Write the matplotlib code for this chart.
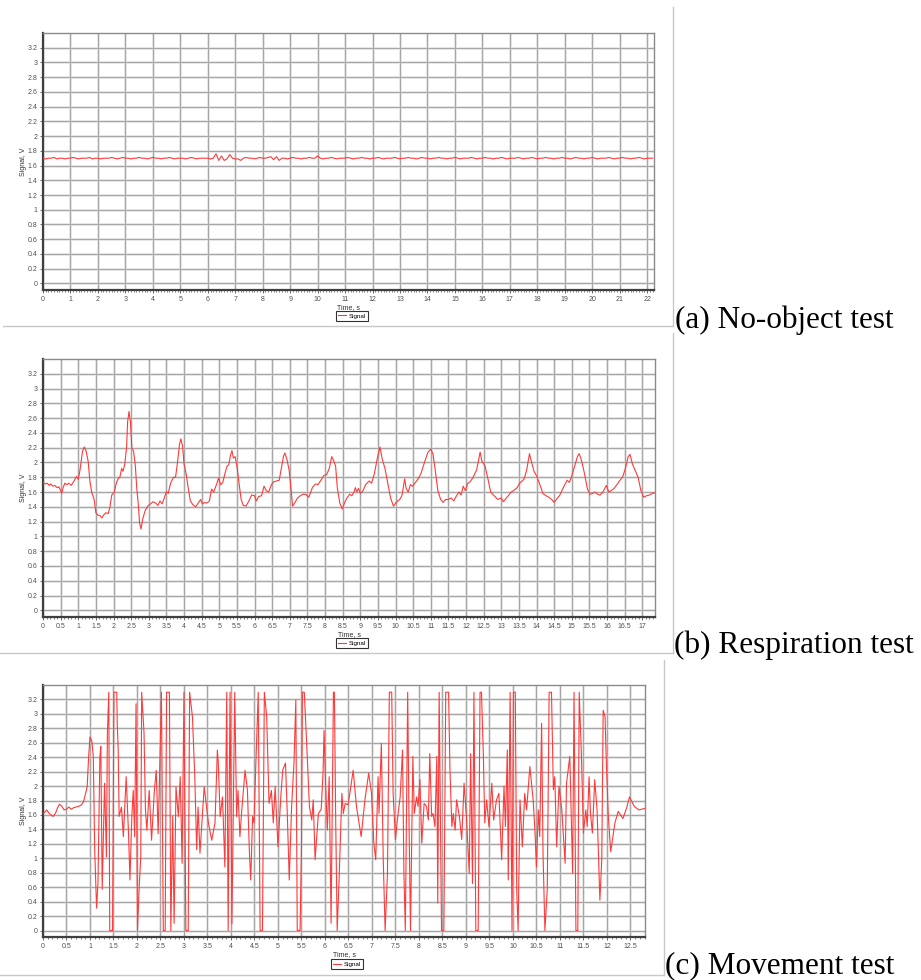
"""
センサ信号の3種類のテスト結果（無物体・呼吸・動作）を再現するプロット
"""

import numpy as np
import matplotlib
matplotlib.use("Agg")
import matplotlib.pyplot as plt
from matplotlib.lines import Line2D
from matplotlib.ticker import MultipleLocator, AutoMinorLocator, FormatStrFormatter


# =============================================================================
# データ
# =============================================================================

# (a) No-object test : 0.1 s 間隔
time_a_step = 0.1
signal_a = [
    1.70, 1.69, 1.70, 1.70, 1.71, 1.69, 1.70, 1.70, 1.69, 1.70,
    1.70, 1.71, 1.70, 1.69, 1.70, 1.70, 1.70, 1.71, 1.69, 1.70,
    1.70, 1.69, 1.70, 1.70, 1.70, 1.71, 1.70, 1.69, 1.70, 1.71,
    1.70, 1.70, 1.69, 1.70, 1.70, 1.71, 1.70, 1.70, 1.69, 1.70,
    1.71, 1.70, 1.70, 1.69, 1.70, 1.70, 1.71, 1.70, 1.69, 1.70,
    1.70, 1.70, 1.69, 1.70, 1.71, 1.70, 1.69, 1.70, 1.70, 1.70,
    1.70, 1.69, 1.70, 1.76, 1.67, 1.73, 1.67, 1.69, 1.75, 1.70,
    1.69, 1.69, 1.67, 1.70, 1.71, 1.70, 1.70, 1.69, 1.70, 1.71,
    1.70, 1.70, 1.71, 1.72, 1.68, 1.72, 1.67, 1.70, 1.70, 1.69,
    1.70, 1.71, 1.70, 1.70, 1.69, 1.70, 1.70, 1.71, 1.70, 1.70,
    1.73, 1.70, 1.69, 1.70, 1.70, 1.71, 1.70, 1.69, 1.70, 1.70,
    1.70, 1.71, 1.70, 1.69, 1.70, 1.70, 1.71, 1.70, 1.70, 1.69,
    1.70, 1.70, 1.71, 1.70, 1.69, 1.70, 1.70, 1.70, 1.71, 1.70,
    1.69, 1.70, 1.70, 1.71, 1.70, 1.70, 1.69, 1.70, 1.71, 1.70,
    1.70, 1.69, 1.70, 1.70, 1.71, 1.70, 1.70, 1.69, 1.70, 1.70,
    1.71, 1.70, 1.69, 1.70, 1.70, 1.70, 1.71, 1.70, 1.69, 1.70,
    1.70, 1.71, 1.70, 1.70, 1.69, 1.70, 1.70, 1.71, 1.70, 1.69,
    1.70, 1.70, 1.70, 1.71, 1.70, 1.69, 1.70, 1.70, 1.71, 1.70,
    1.69, 1.70, 1.70, 1.71, 1.70, 1.70, 1.69, 1.70, 1.70, 1.71,
    1.70, 1.70, 1.69, 1.70, 1.71, 1.70, 1.70, 1.69, 1.70, 1.70,
    1.71, 1.70, 1.69, 1.70, 1.70, 1.70, 1.71, 1.70, 1.69, 1.70,
    1.70, 1.71, 1.70, 1.70, 1.69, 1.70, 1.70, 1.71, 1.70, 1.69,
    1.70, 1.70, 1.70,
]

# (b) Respiration test
time_b = [
    0.00, 0.08, 0.12, 0.18, 0.22, 0.28, 0.33, 0.40, 0.45, 0.50, 0.53, 0.57,
    0.62, 0.68, 0.73, 0.80, 0.88, 0.95, 1.00, 1.05, 1.12, 1.17, 1.22, 1.28,
    1.33, 1.38, 1.45, 1.50, 1.55, 1.62, 1.67, 1.72, 1.78, 1.85, 1.90, 1.95,
    2.02, 2.08, 2.13, 2.18, 2.23, 2.27, 2.32, 2.37, 2.40, 2.44, 2.48, 2.52,
    2.57, 2.62, 2.66, 2.70, 2.74, 2.78, 2.83, 2.90, 2.97, 3.05, 3.12, 3.20,
    3.26, 3.32, 3.38, 3.44, 3.50, 3.55, 3.62, 3.70, 3.76, 3.82, 3.87, 3.91,
    3.96, 4.00, 4.06, 4.12, 4.18, 4.25, 4.33, 4.40, 4.47, 4.52, 4.58, 4.65,
    4.72, 4.78, 4.84, 4.92, 4.98, 5.04, 5.10, 5.16, 5.22, 5.27, 5.32, 5.36,
    5.40, 5.45, 5.50, 5.56, 5.62, 5.68, 5.76, 5.84, 5.92, 6.00, 6.05, 6.12,
    6.20, 6.27, 6.33, 6.40, 6.48, 6.55, 6.62, 6.70, 6.76, 6.82, 6.86, 6.92,
    6.98, 7.04, 7.08, 7.15, 7.22, 7.30, 7.37, 7.45, 7.54, 7.64, 7.73, 7.80,
    7.87, 7.96, 8.05, 8.12, 8.19, 8.25, 8.30, 8.35, 8.42, 8.49, 8.55, 8.62,
    8.70, 8.76, 8.82, 8.86, 8.90, 8.95, 9.00, 9.08, 9.15, 9.25, 9.32, 9.40,
    9.48, 9.56, 9.62, 9.70, 9.78, 9.86, 9.94, 10.00, 10.06, 10.12, 10.18, 10.26,
    10.30, 10.36, 10.42, 10.48, 10.55, 10.64, 10.72, 10.82, 10.92, 11.00, 11.06, 11.12,
    11.20, 11.28, 11.35, 11.42, 11.50, 11.58, 11.65, 11.73, 11.80, 11.86, 11.92, 11.98,
    12.05, 12.12, 12.20, 12.30, 12.36, 12.40, 12.45, 12.54, 12.62, 12.70, 12.80, 12.90,
    13.00, 13.06, 13.14, 13.20, 13.28, 13.35, 13.45, 13.52, 13.59, 13.65, 13.72, 13.80,
    13.86, 13.93, 14.00, 14.08, 14.18, 14.27, 14.35, 14.43, 14.50, 14.58, 14.65, 14.72,
    14.80, 14.87, 14.93, 15.00, 15.08, 15.16, 15.21, 15.28, 15.36, 15.44, 15.51, 15.58,
    15.66, 15.73, 15.80, 15.88, 15.98, 16.05, 16.12, 16.20, 16.28, 16.35, 16.44, 16.52,
    16.60, 16.65, 16.72, 16.80, 16.88, 16.96, 17.04, 17.12, 17.20, 17.28, 17.35,
]
signal_b = [
    1.73, 1.71, 1.72, 1.69, 1.71, 1.68, 1.69, 1.66, 1.67, 1.62, 1.58, 1.66,
    1.72, 1.70, 1.72, 1.69, 1.75, 1.81, 1.77, 1.90, 2.15, 2.21, 2.16, 2.02,
    1.75, 1.60, 1.50, 1.32, 1.29, 1.28, 1.25, 1.29, 1.32, 1.31, 1.40, 1.56,
    1.60, 1.72, 1.78, 1.80, 1.92, 1.88, 1.98, 2.20, 2.55, 2.69, 2.55, 2.20,
    2.15, 1.95, 1.65, 1.45, 1.18, 1.10, 1.24, 1.35, 1.41, 1.44, 1.47, 1.45,
    1.42, 1.48, 1.44, 1.52, 1.61, 1.58, 1.72, 1.80, 1.80, 2.02, 2.24, 2.32,
    2.22, 1.98, 1.85, 1.65, 1.48, 1.43, 1.40, 1.45, 1.50, 1.44, 1.46, 1.45,
    1.48, 1.64, 1.60, 1.70, 1.79, 1.70, 1.73, 1.85, 1.95, 1.97, 2.10, 2.16,
    2.06, 2.08, 1.95, 1.72, 1.50, 1.42, 1.41, 1.48, 1.56, 1.55, 1.48, 1.54,
    1.55, 1.68, 1.62, 1.60, 1.70, 1.74, 1.75, 1.76, 1.92, 2.08, 2.13, 2.04,
    1.90, 1.62, 1.41, 1.46, 1.52, 1.55, 1.57, 1.57, 1.53, 1.66, 1.71, 1.70,
    1.75, 1.82, 1.84, 1.92, 2.08, 2.02, 1.95, 1.65, 1.45, 1.37, 1.45, 1.52,
    1.57, 1.55, 1.60, 1.66, 1.60, 1.65, 1.58, 1.62, 1.70, 1.75, 1.72, 1.85,
    2.05, 2.21, 2.05, 1.92, 1.72, 1.52, 1.41, 1.45, 1.48, 1.50, 1.55, 1.78,
    1.65, 1.60, 1.70, 1.68, 1.72, 1.78, 1.85, 2.00, 2.14, 2.18, 2.12, 1.92,
    1.62, 1.50, 1.46, 1.50, 1.50, 1.52, 1.48, 1.55, 1.60, 1.56, 1.68, 1.62,
    1.72, 1.74, 1.80, 1.90, 2.04, 2.14, 2.02, 1.95, 1.78, 1.60, 1.55, 1.50,
    1.52, 1.47, 1.52, 1.55, 1.60, 1.62, 1.66, 1.72, 1.75, 1.78, 1.90, 2.12,
    2.00, 1.88, 1.82, 1.72, 1.58, 1.55, 1.53, 1.50, 1.46, 1.51, 1.55, 1.62,
    1.70, 1.76, 1.73, 1.82, 1.95, 2.08, 2.12, 2.02, 1.85, 1.65, 1.57, 1.58,
    1.60, 1.57, 1.56, 1.60, 1.69, 1.60, 1.62, 1.65, 1.70, 1.75, 1.80, 1.92,
    2.08, 2.11, 1.98, 1.89, 1.80, 1.62, 1.53, 1.55, 1.56, 1.58, 1.59,
]

# (c) Movement test
time_c = [
    0.00, 0.04, 0.08, 0.12, 0.17, 0.22, 0.27, 0.31, 0.35, 0.40, 0.45, 0.50,
    0.55, 0.60, 0.65, 0.70, 0.76, 0.82, 0.86, 0.90, 0.94, 0.97, 1.00, 1.04,
    1.07, 1.10, 1.14, 1.17, 1.21, 1.23, 1.26, 1.31, 1.35, 1.37, 1.40, 1.42,
    1.48, 1.51, 1.57, 1.58, 1.60, 1.62, 1.67, 1.71, 1.77, 1.82, 1.85, 1.89,
    1.92, 1.95, 1.98, 2.01, 2.05, 2.08, 2.10, 2.15, 2.18, 2.21, 2.26, 2.31,
    2.37, 2.41, 2.45, 2.48, 2.52, 2.56, 2.60, 2.63, 2.69, 2.72, 2.76, 2.79,
    2.83, 2.88, 2.92, 2.96, 3.00, 3.04, 3.09, 3.12, 3.18, 3.23, 3.27, 3.30,
    3.34, 3.43, 3.52, 3.59, 3.66, 3.71, 3.73, 3.77, 3.82, 3.87, 3.91, 3.94,
    3.98, 4.02, 4.08, 4.12, 4.15, 4.19, 4.23, 4.30, 4.35, 4.39, 4.42, 4.46,
    4.49, 4.53, 4.58, 4.62, 4.67, 4.71, 4.76, 4.81, 4.86, 4.90, 4.94, 5.00,
    5.06, 5.10, 5.16, 5.20, 5.24, 5.29, 5.34, 5.38, 5.41, 5.47, 5.50, 5.52,
    5.56, 5.61, 5.67, 5.72, 5.75, 5.79, 5.86, 5.92, 5.96, 5.98, 6.01, 6.05,
    6.09, 6.13, 6.18, 6.20, 6.23, 6.26, 6.30, 6.36, 6.39, 6.43, 6.49, 6.53,
    6.60, 6.67, 6.77, 6.85, 6.93, 6.99, 7.04, 7.08, 7.13, 7.15, 7.20, 7.24,
    7.28, 7.33, 7.37, 7.42, 7.45, 7.50, 7.54, 7.60, 7.65, 7.68, 7.71, 7.76,
    7.79, 7.82, 7.87, 7.90, 7.95, 7.98, 8.02, 8.06, 8.11, 8.16, 8.20, 8.23,
    8.27, 8.30, 8.34, 8.38, 8.40, 8.43, 8.48, 8.53, 8.57, 8.63, 8.66, 8.70,
    8.73, 8.77, 8.80, 8.86, 8.91, 8.96, 9.01, 9.07, 9.10, 9.14, 9.17, 9.21,
    9.26, 9.30, 9.33, 9.37, 9.40, 9.44, 9.49, 9.55, 9.59, 9.65, 9.70, 9.76,
    9.81, 9.84, 9.88, 9.90, 9.94, 9.98, 10.01, 10.05, 10.08, 10.11, 10.15, 10.20,
    10.25, 10.29, 10.36, 10.43, 10.47, 10.50, 10.54, 10.57, 10.61, 10.64, 10.68, 10.73,
    10.77, 10.82, 10.86, 10.89, 10.93, 10.98, 11.04, 11.11, 11.14, 11.21, 11.27, 11.30,
    11.34, 11.38, 11.41, 11.46, 11.50, 11.55, 11.58, 11.62, 11.65, 11.69, 11.74, 11.79,
    11.85, 11.89, 11.92, 11.96, 11.99, 12.03, 12.08, 12.17, 12.24, 12.34, 12.42, 12.48,
    12.58, 12.68, 12.80,
]
signal_c = [
    1.62, 1.64, 1.67, 1.63, 1.60, 1.58, 1.63, 1.70, 1.75, 1.72, 1.67, 1.68,
    1.71, 1.68, 1.70, 1.71, 1.72, 1.74, 1.78, 1.88, 1.99, 2.40, 2.68, 2.62,
    2.41, 1.12, 0.31, 0.66, 2.40, 2.55, 0.57, 2.04, 1.02, 2.73, 3.30, 0.00,
    0.00, 3.30, 3.30, 2.87, 2.50, 1.58, 1.71, 1.30, 2.13, 1.34, 0.70, 1.58,
    1.94, 1.30, 3.14, 0.00, 0.65, 1.02, 3.30, 2.73, 1.67, 1.39, 1.94, 1.25,
    1.94, 2.22, 1.34, 2.13, 3.30, 0.00, 0.00, 3.30, 3.30, 0.00, 1.58, 0.10,
    1.99, 1.58, 2.13, 0.93, 3.30, 0.00, 0.00, 3.30, 2.96, 2.13, 1.12, 1.71,
    1.07, 1.99, 1.49, 1.25, 1.49, 2.50, 2.32, 1.58, 1.85, 0.88, 3.30, 0.00,
    3.30, 0.09, 3.30, 1.58, 1.94, 1.30, 1.67, 2.22, 1.94, 1.12, 0.70, 1.58,
    1.49, 2.32, 3.30, 0.00, 0.00, 3.30, 2.96, 1.76, 1.94, 1.49, 1.99, 1.16,
    1.85, 2.22, 2.32, 1.58, 0.70, 1.71, 2.32, 3.19, 0.00, 0.00, 1.12, 3.30,
    3.30, 2.60, 1.71, 1.53, 1.81, 0.98, 1.62, 1.68, 2.20, 2.77, 2.09, 1.39,
    2.13, 0.10, 3.30, 3.30, 1.44, 0.00, 0.70, 1.90, 1.62, 1.76, 1.74, 1.90,
    2.22, 1.72, 1.30, 1.81, 2.18, 1.90, 1.21, 0.98, 2.13, 1.62, 2.59, 0.98,
    0.00, 0.79, 3.30, 3.30, 1.90, 1.26, 1.53, 1.85, 2.50, 0.79, 0.00, 3.30,
    1.44, 0.00, 2.41, 1.62, 1.85, 1.72, 2.09, 1.21, 1.76, 1.72, 1.53, 2.45,
    1.58, 1.62, 1.44, 2.41, 0.38, 3.30, 0.00, 0.00, 3.30, 3.30, 2.22, 1.44,
    1.62, 1.39, 1.81, 1.58, 1.26, 2.04, 1.58, 0.79, 2.45, 0.65, 3.30, 0.00,
    0.00, 3.30, 3.30, 2.45, 1.49, 1.81, 1.44, 2.04, 1.53, 1.81, 1.90, 0.98,
    2.00, 1.44, 2.50, 0.70, 3.30, 0.00, 3.30, 3.30, 0.56, 0.00, 1.81, 1.16,
    1.90, 1.67, 2.27, 1.81, 1.35, 0.88, 1.67, 1.30, 2.87, 1.07, 0.00, 0.56,
    3.30, 3.30, 1.95, 2.13, 1.16, 2.00, 1.67, 0.93, 2.04, 2.41, 0.79, 3.30,
    0.00, 0.00, 3.30, 2.36, 1.35, 1.67, 1.44, 2.13, 1.62, 1.35, 2.09, 1.67,
    0.42, 0.98, 3.05, 2.96, 2.27, 1.58, 1.09, 1.49, 1.65, 1.55, 1.70, 1.85,
    1.72, 1.67, 1.69,
]

y_ticks = [0, 0.2, 0.4, 0.6, 0.8, 1, 1.2, 1.4, 1.6, 1.8, 2, 2.2, 2.4, 2.6, 2.8, 3, 3.2]

captions = ["(a) No-object test", "(b) Respiration test", "(c) Movement test"]


# =============================================================================
# レイアウト（ピクセル指定 → figure 座標）
# =============================================================================

W, H = 921, 980
LINE_COLOR = "#ff3a3a"


def fx(x):
    return x / W


def fy(y):
    return 1 - y / H


def make_axes(fig, left, top, right, bottom):
    return fig.add_axes([fx(left), fy(bottom), (right - left) / W, (bottom - top) / H])


def style_axes(ax, xmax, xstep, minor_n, width_px):
    """Chart control 風の軸・グリッド設定"""
    ax.set_xlim(0, xmax)
    ax.set_ylim(-0.09, 3.4)

    ax.xaxis.set_major_locator(MultipleLocator(xstep))
    ax.xaxis.set_minor_locator(AutoMinorLocator(minor_n))
    ax.set_yticks(y_ticks)
    ax.xaxis.set_major_formatter(FormatStrFormatter("%g"))
    ax.yaxis.set_major_formatter(FormatStrFormatter("%g"))

    # グリッド（淡い太線＋細い濃線）
    for t in np.arange(0, xmax + 1e-9, xstep):
        ax.axvline(t, color="#e4e4e4", lw=2.0, zorder=0)
    for v in y_ticks:
        ax.axhline(v, color="#e4e4e4", lw=2.0, zorder=0)
    ax.grid(True, which="major", color="#a6a6a6", lw=0.7, zorder=1)
    ax.set_axisbelow(True)

    ax.tick_params(axis="both", which="major", labelsize=5, labelcolor="#505050",
                   color="#505050", length=2, width=0.6, pad=2)
    ax.tick_params(axis="x", which="minor", color="#505050", length=1.5, width=0.5)
    for lab in ax.get_xticklabels() + ax.get_yticklabels():
        lab.set_family("Liberation Sans")

    for side in ["left", "bottom"]:
        ax.spines[side].set_color("#404040")
        ax.spines[side].set_linewidth(1.6)
    for side in ["top", "right"]:
        ax.spines[side].set_color("#8a8a8a")
        ax.spines[side].set_linewidth(1.0)

    ax.set_xlabel("Time, s", fontsize=5, family="Liberation Sans", color="#303030", labelpad=1)
    ax.set_ylabel("Signal, V", fontsize=5, family="Liberation Sans", color="#303030")
    ax.yaxis.set_label_coords(-16 / width_px, 0.5)


def add_legend(ax, fig, cx, cy):
    handle = Line2D([], [], color=LINE_COLOR, lw=0.8)
    leg = ax.legend([handle], ["Signal"], loc="center", bbox_to_anchor=(fx(cx), fy(cy)),
                    bbox_transform=fig.transFigure, frameon=True,
                    fancybox=False, handlelength=1.3, handletextpad=0.4,
                    borderpad=0.35, prop={"family": "Liberation Sans", "size": 4.5})
    leg.get_frame().set_edgecolor("black")
    leg.get_frame().set_linewidth(0.8)


def add_sep(fig, x0, y0, x1, y1):
    fig.add_artist(Line2D([fx(x0), fx(x1)], [fy(y0), fy(y1)], color="#c8c8c8", lw=1.0))


# =============================================================================
# 描画
# =============================================================================

fig = plt.figure(figsize=(W / 100, H / 100), dpi=100)

time_a = np.arange(len(signal_a)) * time_a_step

# (a)
ax_a = make_axes(fig, 43, 33, 654, 290)
style_axes(ax_a, 22.25, 1, 10, 611)
ax_a.plot(time_a, signal_a, color=LINE_COLOR, lw=0.8, zorder=3)
add_legend(ax_a, fig, 352, 316)

# (b)
ax_b = make_axes(fig, 43, 359, 655, 617)
style_axes(ax_b, 17.36, 0.5, 5, 612)
ax_b.plot(time_b, signal_b, color=LINE_COLOR, lw=0.8, zorder=3)
add_legend(ax_b, fig, 352, 643)

# (c)
ax_c = make_axes(fig, 43, 685, 645, 937)
style_axes(ax_c, 12.81, 0.5, 5, 602)
ax_c.plot(time_c, signal_c, color=LINE_COLOR, lw=0.8, zorder=3)
add_legend(ax_c, fig, 347, 964)

# 画像の枠線
add_sep(fig, 673, 7, 673, 326)
add_sep(fig, 3, 326, 673, 326)
add_sep(fig, 673, 333, 673, 653)
add_sep(fig, 0, 653, 673, 653)
add_sep(fig, 664, 660, 664, 975)
add_sep(fig, 0, 975, 664, 975)

# キャプション
for (x, y), text in zip([(675, 320), (674, 645), (665, 966)], captions):
    fig.text(fx(x), fy(y), text, fontsize=22.5, family="Liberation Serif",
             ha="left", va="center", color="black")

fig.savefig("out.png", dpi=100)
